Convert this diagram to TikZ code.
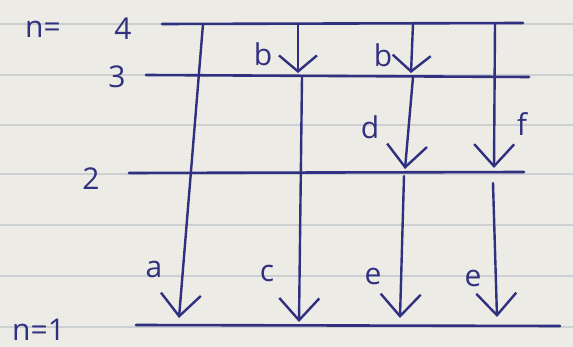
\documentclass[tikz,border=0pt]{standalone}
\usepackage{fontspec}
\setmainfont{Open Sans}
\usetikzlibrary{arrows.meta}
\definecolor{ink}{RGB}{48,48,128}
\definecolor{paper}{RGB}{236,235,229}
\definecolor{rule}{RGB}{204,208,210}
\tikzset{
  level/.style={draw=ink, line width=2.6pt, line cap=round},
  drop/.style={draw=ink, line width=2.4pt, line cap=round,
    -{Straight Barb[length=22pt,width=40pt,line width=2.4pt]}},
  shortdrop/.style={draw=ink, line width=2.4pt, line cap=round,
    -{Straight Barb[length=16pt,width=38pt,line width=2.4pt]}},
  lbl/.style={text=ink, font=\fontsize{30}{30}\selectfont, inner sep=0pt},
}
\begin{document}
\begin{tikzpicture}[x=1pt, y=-1pt]
  % sheet of ruled paper
  \fill[paper] (0,0) rectangle (573,347);
  \useasboundingbox (0,0) rectangle (573,347);
  \foreach \yy in {24,75,125,174,225,276,327}
    \draw[rule, line width=1.6pt] (0,\yy) -- (573,\yy);

  % energy levels
  \coordinate (L4a) at (162,24);  \coordinate (L4b) at (523,23);
  \coordinate (L3a) at (146,75);  \coordinate (L3b) at (529,77);
  \coordinate (L2a) at (129,173); \coordinate (L2b) at (524,172);
  \coordinate (L1a) at (136,325); \coordinate (L1b) at (560,326);
  \draw[level] (L4a) -- (L4b);
  \draw[level] (L3a) -- (L3b);
  \draw[level] (L2a) -- (L2b);
  \draw[level] (L1a) -- (L1b);

  % level labels
  \node[lbl, anchor=base west] (n4) at (25,38) {n=};
  \node[lbl, anchor=base] (v4) at (123,40) {4};
  \node[lbl, anchor=base] (v3) at (117,88) {3};
  \node[lbl, anchor=base] (v2) at (91,190) {2};
  \node[lbl, anchor=base west] (n1) at (12,341) {n=1};

  % transition end points
  \coordinate (a0) at (203,24);  \coordinate (a1) at (179,318);
  \coordinate (b0) at (298,24);  \coordinate (b1) at (298,73);
  \coordinate (c0) at (302,77);  \coordinate (c1) at (299,322);
  \coordinate (bb0) at (413,24); \coordinate (bb1) at (411,73);
  \coordinate (d0) at (413,77);  \coordinate (d1) at (405,169);
  \coordinate (e0) at (404,176); \coordinate (e1) at (400,318);
  \coordinate (f0) at (495,24);  \coordinate (f1) at (494,168);
  \coordinate (g0) at (493,183); \coordinate (g1) at (497,317);

  % transitions
  \draw[drop] (a0) -- (a1);
  \draw[shortdrop] (b0) -- (b1);
  \draw[drop] (c0) -- (c1);
  \draw[shortdrop] (bb0) -- (bb1);
  \draw[drop] (d0) -- (d1);
  \draw[drop] (e0) -- (e1);
  \draw[drop] (f0) -- (f1);
  \draw[drop] (g0) -- (g1);

  % transition labels
  \node[lbl, anchor=base] (la) at (154,278) {a};
  \node[lbl, anchor=base] (lb) at (263,66) {b};
  \node[lbl, anchor=base] (lc) at (267,282) {c};
  \node[lbl, anchor=base] (lbb) at (383,67) {b};
  \node[lbl, anchor=base] (ld) at (370,139) {d};
  \node[lbl, anchor=base] (le) at (373,285) {e};
  \node[lbl, anchor=base] (lee) at (473,287) {e};
  \node[lbl, anchor=base] (lf) at (522,136) {f};
\end{tikzpicture}
\end{document}
